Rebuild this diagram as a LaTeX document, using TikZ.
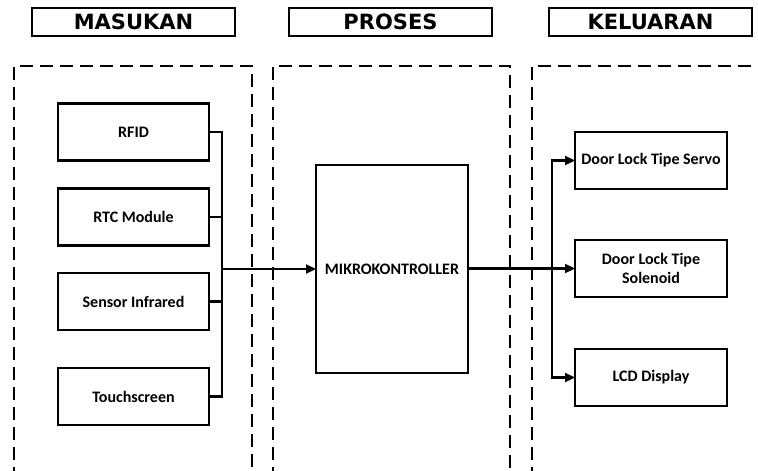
\documentclass[tikz,border=0pt]{standalone}
\usepackage{fontspec}
\setmainfont{Carlito}
\newfontfamily\hdrfont{DejaVu Sans}
\usetikzlibrary{arrows.meta}
\tikzset{
  blk/.style={draw=black, line width=2.2pt, fill=white, inner sep=0pt, outer sep=0pt,
    minimum width=151pt, minimum height=57pt, align=center,
    font=\fontsize{16}{19}\selectfont\bfseries},
  hdr/.style={draw=black, line width=2.4pt, inner sep=0pt, outer sep=0pt,
    minimum width=203pt, minimum height=28pt,
    font=\hdrfont\bfseries\fontsize{21}{23}\selectfont},
  zone/.style={draw=black, line width=2.4pt, dash pattern=on 13pt off 7pt},
  wire/.style={draw=black, line width=2.2pt},
  arr/.style={wire, -{Triangle[length=10pt,width=9pt]}}
}
\begin{document}
\begin{tikzpicture}[x=1pt,y=-1pt]
\useasboundingbox (0,0) rectangle (758,471);
\clip (0,0) rectangle (758,471);
% headers
\node[hdr] (hin) at (133.5,22) {MASUKAN};
\node[hdr] (hproc) at (390.5,22) {PROSES};
\node[hdr] (hout) at (650.5,22) {KELUARAN};
% dashed zones
\draw[zone] (14,480) -- (14,66) -- (252,66) -- (252,480);
\draw[zone] (273,480) -- (273,66) -- (510,66) -- (510,480);
\draw[zone] (532,480) -- (532,66) -- (770,66);
% input blocks
\node[blk] (rfid) at (133.5,132) {RFID};
\node[blk] (rtc) at (133.5,217) {RTC Module};
\node[blk] (sensor) at (133.5,301.5) {Sensor Infrared};
\node[blk] (touch) at (133.5,396.5) {Touchscreen};
% microcontroller
\node[blk, minimum width=152pt, minimum height=208pt] (mcu) at (392,269) {MIKROKONTROLLER};
% output blocks
\node[blk, minimum width=152pt] (servo) at (651,160.5) {Door Lock Tipe Servo};
\node[blk, minimum width=152pt] (sol) at (651,268.5) {Door Lock Tipe\\Solenoid};
\node[blk, minimum width=152pt] (lcd) at (651,377.5) {LCD Display};
% input bus
\coordinate (bin) at (222,269);
\draw[wire] (rfid.east) -| (bin);
\draw[wire] (touch.east) -| (bin);
\draw[wire] (rtc.east) -- (rtc.east -| bin);
\draw[wire] (sensor.east) -- (sensor.east -| bin);
\draw[arr] (bin) -- (mcu.west);
% output bus
\coordinate (bout) at (552,268.5);
\draw[arr] (mcu.east |- sol.west) -- (sol.west);
\draw[arr] (bout) |- (servo.west);
\draw[arr] (bout) |- (lcd.west);
\end{tikzpicture}
\end{document}
